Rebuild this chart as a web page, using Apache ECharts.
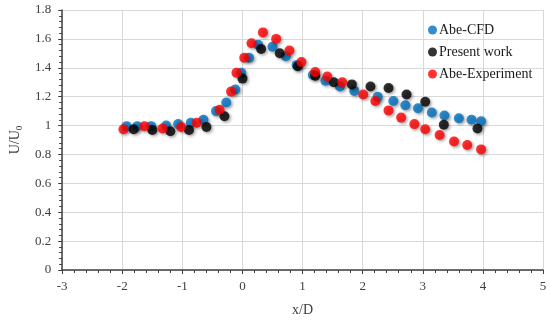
<!DOCTYPE html>
<html>
<head>
<meta charset="utf-8">
<script src="https://cdn.jsdelivr.net/npm/echarts@6/dist/echarts.min.js"></script>
<style>html,body{margin:0;padding:0;background:#fff;}#c{width:550px;height:322px;}</style>
</head>
<body>
<div id="c"></div>
<script>
var cfdX = [-1.93,-1.75,-1.52,-1.27,-1.07,-0.86,-0.65,-0.44,-0.27,-0.12,-0.02,0.11,0.26,0.5,0.72,0.9,1.17,1.38,1.62,1.86,2.25,2.51,2.71,2.92,3.15,3.36,3.6,3.81,3.97];
var cfdY = [0.996,0.996,0.996,1.0,1.01,1.02,1.04,1.10,1.16,1.25,1.365,1.47,1.56,1.545,1.48,1.42,1.35,1.31,1.27,1.24,1.20,1.17,1.14,1.12,1.09,1.07,1.05,1.04,1.03];
var presX = [-1.81,-1.5,-1.2,-0.89,-0.6,-0.3,0.0,0.31,0.62,0.92,1.21,1.52,1.82,2.13,2.43,2.73,3.04,3.35,3.91];
var presY = [0.975,0.97,0.96,0.97,0.99,1.065,1.325,1.53,1.50,1.41,1.345,1.30,1.285,1.27,1.26,1.215,1.165,1.005,0.98];
var expX = [-1.98,-1.63,-1.33,-1.02,-0.76,-0.38,-0.19,-0.1,0.03,0.15,0.34,0.56,0.78,0.98,1.21,1.41,1.66,2.01,2.21,2.43,2.64,2.86,3.04,3.28,3.52,3.74,3.97];
var expY = [0.975,0.995,0.98,0.99,1.02,1.11,1.235,1.365,1.47,1.57,1.645,1.60,1.52,1.44,1.37,1.34,1.30,1.215,1.17,1.105,1.055,1.01,0.975,0.935,0.89,0.865,0.835];
var seriesNames = ['Abe-CFD','Present work','Abe-Experiment'];
var seriesColors = ['#0070C0','#000000','#FF0000'];

function pairs(xs, ys){ return xs.map(function(x,i){ return [x, ys[i]]; }); }
var allData = [pairs(cfdX,cfdY), pairs(presX,presY), pairs(expX,expY)];

var font = 'Liberation Serif';
var axisCol = '#404040';
var chart = echarts.init(document.getElementById('c'));
chart.setOption({
  animation: false,
  backgroundColor: '#fff',
  grid: {left: 57, right: 7, top: 10, bottom: 50},
  legend: {
    orient: 'vertical', left: 423, top: 18, itemGap: 8,
    itemWidth: 9, itemHeight: 9, icon: 'circle',
    textStyle: {fontFamily: font, fontSize: 14, color: '#1a1a1a', padding: [0,0,0,-3]},
    data: seriesNames
  },
  xAxis: {
    type: 'value', min: -3, max: 5, interval: 1,
    name: 'x/D', nameLocation: 'middle', nameGap: 33,
    nameTextStyle: {fontFamily: font, fontSize: 14, color: axisCol},
    axisLine: {onZero: false, lineStyle: {color: axisCol, width: 1.5}},
    axisTick: {show: true, inside: false, length: 4, lineStyle: {color: axisCol}},
    minorTick: {show: true, splitNumber: 5, length: 3, lineStyle: {color: axisCol}},
    axisLabel: {fontFamily: font, fontSize: 13, color: axisCol, margin: 10},
    splitLine: {show: true, lineStyle: {color: '#d9d9d9', width: 1}}
  },
  yAxis: {
    type: 'value', min: 0, max: 1.8, interval: 0.2,
    name: '{a|U/U}{s|0}', nameLocation: 'middle', nameGap: 36,
    nameTextStyle: {fontFamily: font, color: axisCol,
      rich: {a: {fontFamily: font, fontSize: 14, color: axisCol, lineHeight: 18},
             s: {fontFamily: font, fontSize: 9, color: axisCol, lineHeight: 9, verticalAlign: 'bottom'}}},
    axisLine: {show: true, onZero: false, lineStyle: {color: axisCol, width: 1.5}},
    axisTick: {show: true, inside: false, length: 4, lineStyle: {color: axisCol}},
    minorTick: {show: true, splitNumber: 5, length: 3, lineStyle: {color: axisCol}},
    axisLabel: {fontFamily: font, fontSize: 13, color: axisCol, margin: 11,
      formatter: function(v){ return (Math.round(v*10)/10).toString(); }},
    splitLine: {show: true, lineStyle: {color: '#d9d9d9', width: 1}}
  },
  series: seriesNames.map(function(n, i){
    return {
      name: n, type: 'scatter', data: allData[i], symbol: 'circle', symbolSize: 10,
      itemStyle: {color: seriesColors[i], shadowBlur: 3, shadowColor: 'rgba(0,0,0,0.45)', shadowOffsetX: 1.5, shadowOffsetY: 1.5}
    };
  })
});
</script>
</body>
</html>
